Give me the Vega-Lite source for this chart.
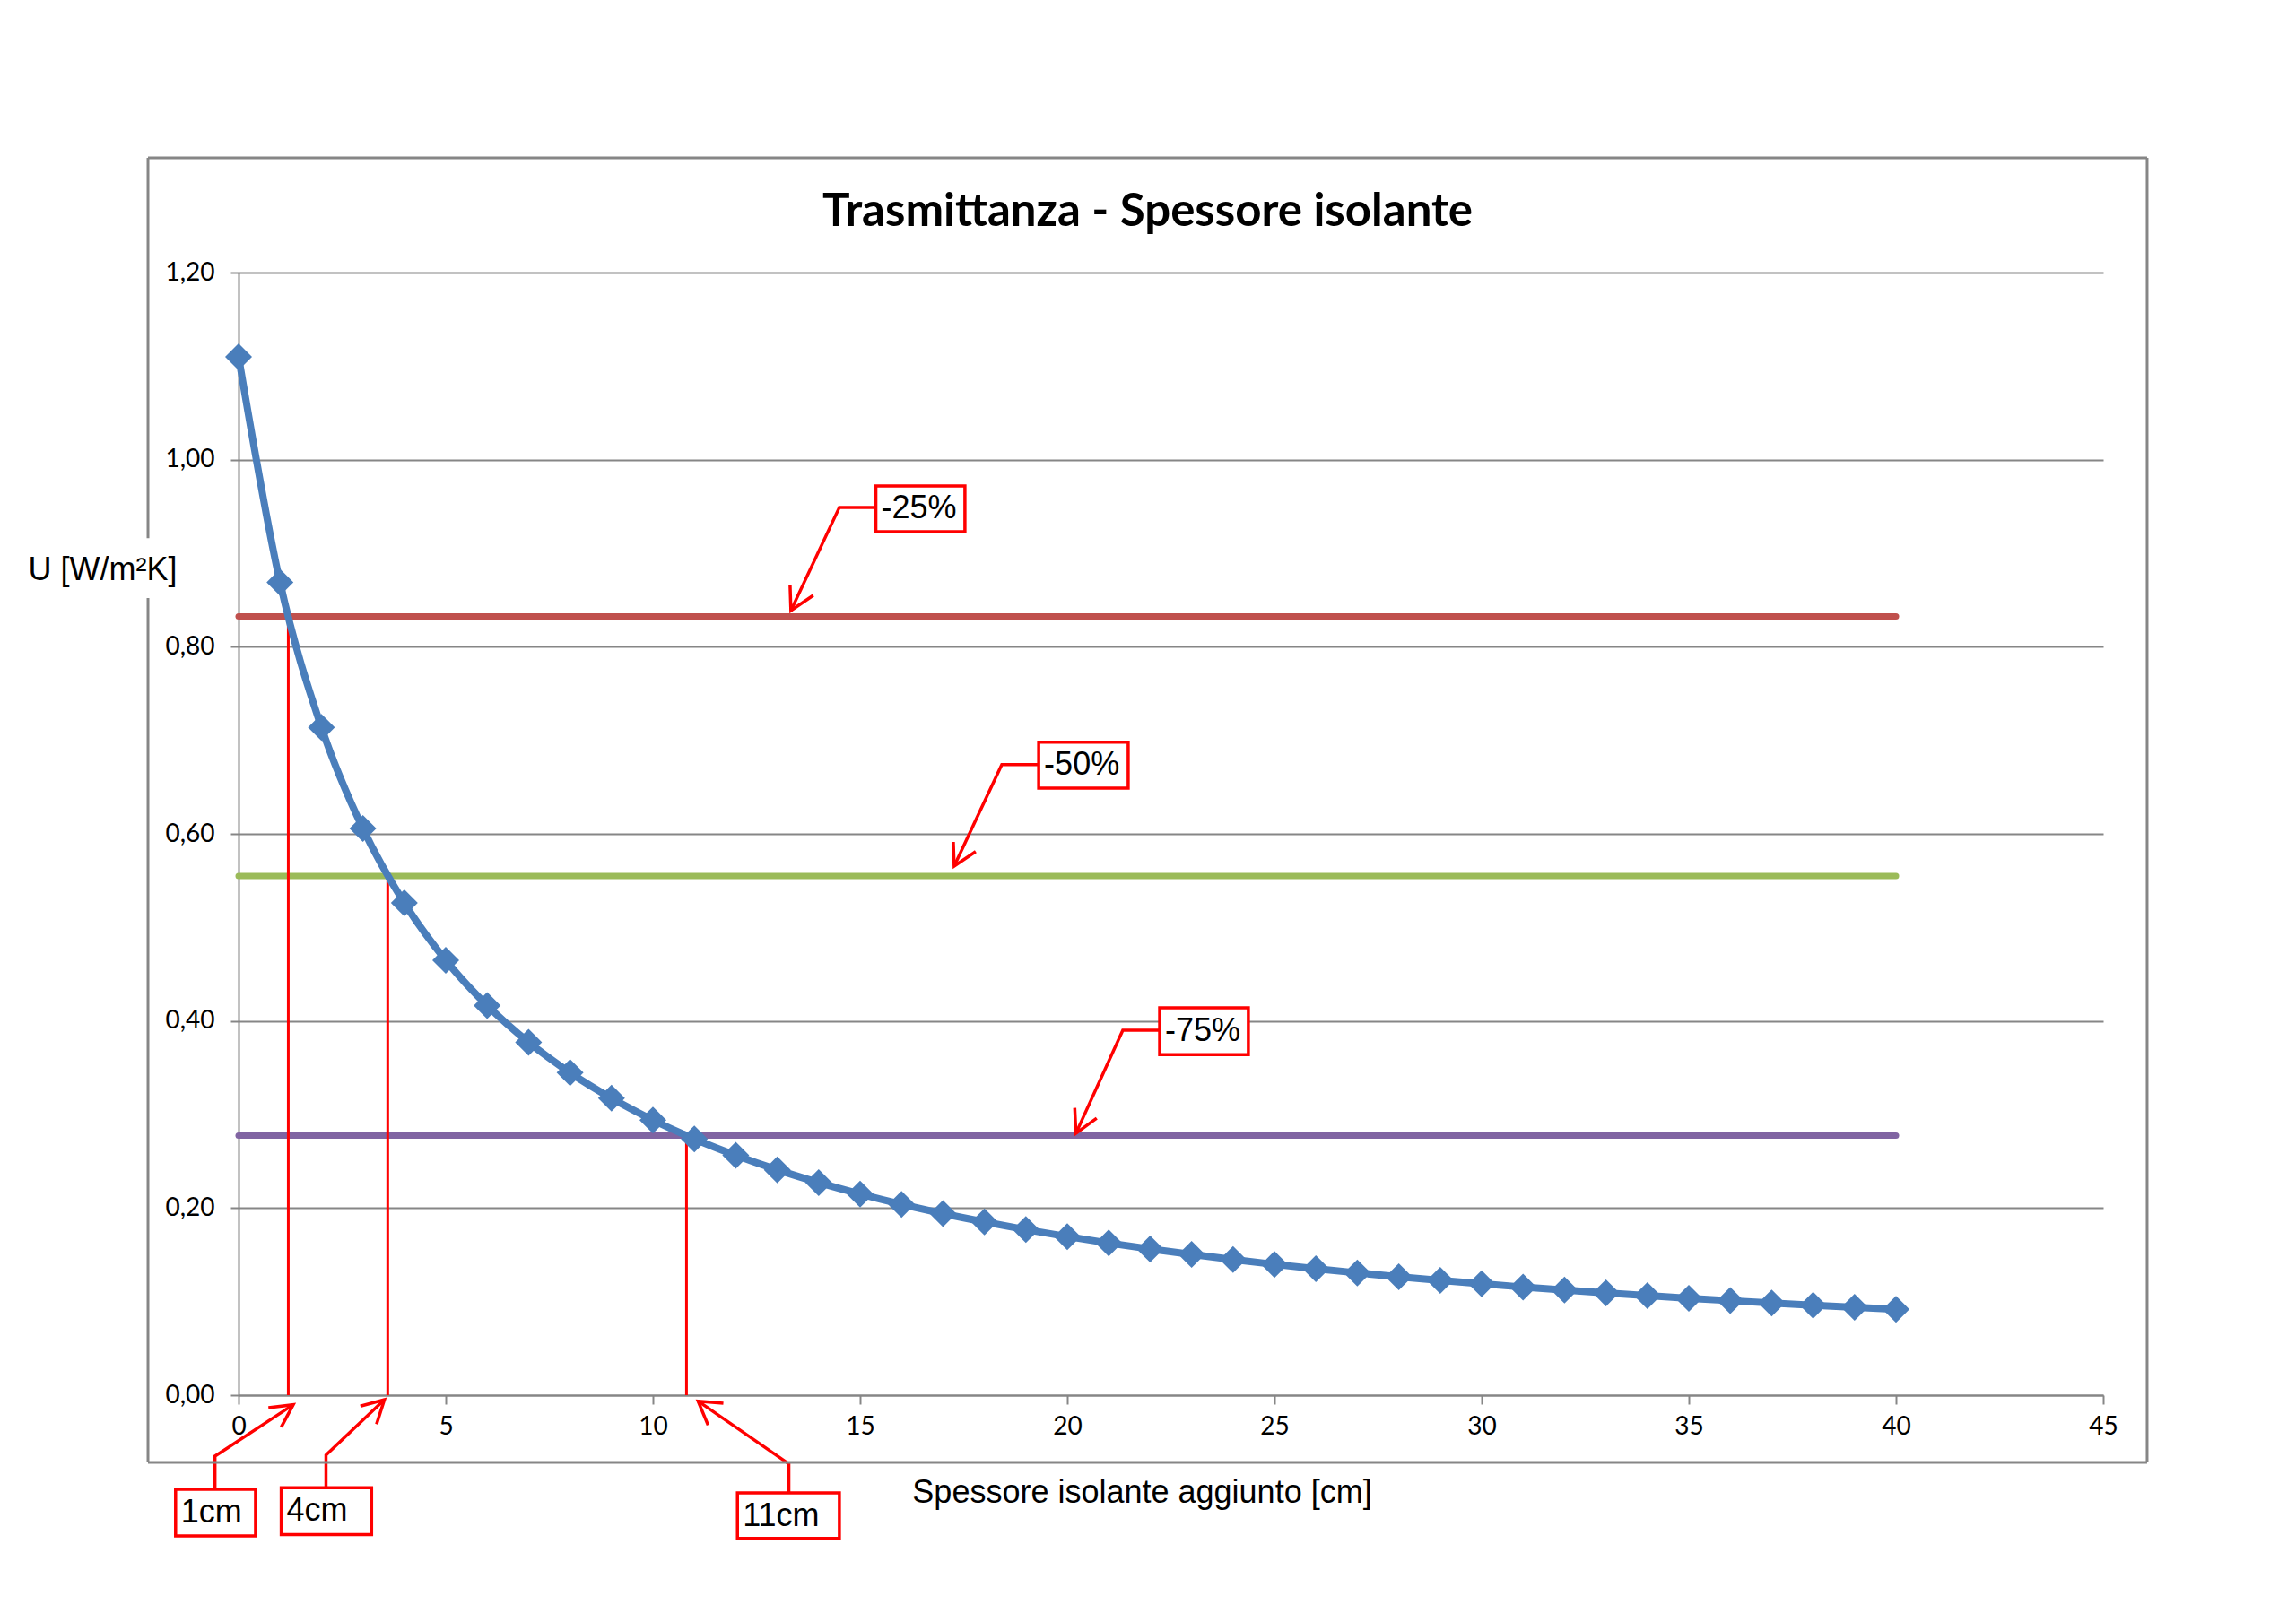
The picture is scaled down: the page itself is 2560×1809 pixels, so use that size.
{
  "$schema": "https://vega.github.io/schema/vega-lite/v6.json",
  "width": 2079,
  "height": 1252,
  "autosize": {"type": "none"},
  "padding": {"left": 266, "top": 304, "right": 215, "bottom": 253},
  "background": "white",
  "title": {"text": "Trasmittanza - Spessore isolante", "font": "Lato", "fontWeight": "bold", "fontSize": 51, "color": "#000000", "anchor": "middle", "dx": -26, "dy": 139, "offset": 50},
  "config": {"view": {"stroke": null}},
  "datasets": {
    "curva": [
      {"x": 0, "y": 1.110}, {"x": 1, "y": 0.8689}, {"x": 2, "y": 0.7138}, {"x": 3, "y": 0.6057}, {"x": 4, "y": 0.5261},
      {"x": 5, "y": 0.4649}, {"x": 6, "y": 0.4165}, {"x": 7, "y": 0.3772}, {"x": 8, "y": 0.3447}, {"x": 9, "y": 0.3174},
      {"x": 10, "y": 0.2940}, {"x": 11, "y": 0.2739}, {"x": 12, "y": 0.2564}, {"x": 13, "y": 0.2409}, {"x": 14, "y": 0.2272},
      {"x": 15, "y": 0.2150}, {"x": 16, "y": 0.2040}, {"x": 17, "y": 0.1941}, {"x": 18, "y": 0.1852}, {"x": 19, "y": 0.1770},
      {"x": 20, "y": 0.1695}, {"x": 21, "y": 0.1626}, {"x": 22, "y": 0.1562}, {"x": 23, "y": 0.1504}, {"x": 24, "y": 0.1449},
      {"x": 25, "y": 0.1398}, {"x": 26, "y": 0.1351}, {"x": 27, "y": 0.1307}, {"x": 28, "y": 0.1266}, {"x": 29, "y": 0.1227},
      {"x": 30, "y": 0.1190}, {"x": 31, "y": 0.1156}, {"x": 32, "y": 0.1123}, {"x": 33, "y": 0.1093}, {"x": 34, "y": 0.1064},
      {"x": 35, "y": 0.1036}, {"x": 36, "y": 0.1010}, {"x": 37, "y": 0.0985}, {"x": 38, "y": 0.0961}, {"x": 39, "y": 0.0939},
      {"x": 40, "y": 0.0917}
    ],
    "soglie": [
      {"serie": "-25%", "x": 0, "y": 0.8325}, {"serie": "-25%", "x": 40, "y": 0.8325},
      {"serie": "-50%", "x": 0, "y": 0.555}, {"serie": "-50%", "x": 40, "y": 0.555},
      {"serie": "-75%", "x": 0, "y": 0.2775}, {"serie": "-75%", "x": 40, "y": 0.2775}
    ],
    "verticali": [
      {"x": 1.2, "y": 0, "y2": 0.8325},
      {"x": 3.6, "y": 0, "y2": 0.555},
      {"x": 10.81, "y": 0, "y2": 0.2775}
    ],
    "frecce": [
      {"g": "a25", "o": 1, "x": 15.38, "y": 0.949}, {"g": "a25", "o": 2, "x": 14.50, "y": 0.949}, {"g": "a25", "o": 3, "x": 13.33, "y": 0.8387},
      {"g": "a25h", "o": 1, "x": 13.31, "y": 0.8655}, {"g": "a25h", "o": 2, "x": 13.33, "y": 0.8387}, {"g": "a25h", "o": 3, "x": 13.87, "y": 0.855},
      {"g": "a50", "o": 1, "x": 19.31, "y": 0.674}, {"g": "a50", "o": 2, "x": 18.42, "y": 0.674}, {"g": "a50", "o": 3, "x": 17.27, "y": 0.5655},
      {"g": "a50h", "o": 1, "x": 17.25, "y": 0.5914}, {"g": "a50h", "o": 2, "x": 17.27, "y": 0.5655}, {"g": "a50h", "o": 3, "x": 17.79, "y": 0.581},
      {"g": "a75", "o": 1, "x": 22.23, "y": 0.390}, {"g": "a75", "o": 2, "x": 21.34, "y": 0.390}, {"g": "a75", "o": 3, "x": 20.21, "y": 0.280},
      {"g": "a75h", "o": 1, "x": 20.18, "y": 0.307}, {"g": "a75h", "o": 2, "x": 20.21, "y": 0.280}, {"g": "a75h", "o": 3, "x": 20.71, "y": 0.296},
      {"g": "c1", "o": 1, "x": -0.57, "y": -0.1006}, {"g": "c1", "o": 2, "x": -0.57, "y": -0.0652}, {"g": "c1", "o": 3, "x": 1.32, "y": -0.0102},
      {"g": "c1h", "o": 1, "x": 0.72, "y": -0.0134}, {"g": "c1h", "o": 2, "x": 1.32, "y": -0.0102}, {"g": "c1h", "o": 3, "x": 1.03, "y": -0.0342},
      {"g": "c4", "o": 1, "x": 2.11, "y": -0.099}, {"g": "c4", "o": 2, "x": 2.11, "y": -0.064}, {"g": "c4", "o": 3, "x": 3.52, "y": -0.0048},
      {"g": "c4h", "o": 1, "x": 2.94, "y": -0.0118}, {"g": "c4h", "o": 2, "x": 3.52, "y": -0.0048}, {"g": "c4h", "o": 3, "x": 3.33, "y": -0.031},
      {"g": "c11", "o": 1, "x": 13.28, "y": -0.1045}, {"g": "c11", "o": 2, "x": 13.28, "y": -0.0735}, {"g": "c11", "o": 3, "x": 11.09, "y": -0.0064},
      {"g": "c11h", "o": 1, "x": 11.70, "y": -0.0086}, {"g": "c11h", "o": 2, "x": 11.09, "y": -0.0064}, {"g": "c11h", "o": 3, "x": 11.33, "y": -0.032}
    ],
    "riquadri": [
      {"label": "-25%", "x": 15.38, "x2": 17.53, "y": 0.923, "y2": 0.972, "yc": 0.9475},
      {"label": "-50%", "x": 19.31, "x2": 21.47, "y": 0.649, "y2": 0.698, "yc": 0.6735},
      {"label": "-75%", "x": 22.23, "x2": 24.37, "y": 0.364, "y2": 0.414, "yc": 0.389},
      {"label": "1cm", "x": -1.52, "x2": 0.41, "y": -0.1505, "y2": -0.1006, "yc": -0.1255},
      {"label": "4cm", "x": 1.03, "x2": 3.21, "y": -0.149, "y2": -0.099, "yc": -0.124},
      {"label": "11cm", "x": 12.04, "x2": 14.50, "y": -0.153, "y2": -0.1045, "yc": -0.129}
    ],
    "cornice": [
      {"x": -2.186, "x2": 46.06, "y": 1.3227, "y2": 1.3227},
      {"x": -2.186, "x2": 46.06, "y": -0.0719, "y2": -0.0719},
      {"x": 46.06, "x2": 46.06, "y": -0.0719, "y2": 1.3227},
      {"x": -2.186, "x2": -2.186, "y": 1.3227, "y2": 0.916},
      {"x": -2.186, "x2": -2.186, "y": 0.852, "y2": -0.0719}
    ]
  },
  "encoding": {
    "x": {
      "field": "x", "type": "quantitative",
      "scale": {"domain": [0, 45], "nice": false, "zero": false},
      "axis": {
        "title": "Spessore isolante aggiunto [cm]",
        "values": [0, 5, 10, 15, 20, 25, 30, 35, 40, 45],
        "grid": false,
        "domainColor": "#868686", "domainWidth": 2,
        "tickColor": "#868686", "tickWidth": 2, "tickSize": 10,
        "labelFont": "Lato", "labelFontSize": 28, "labelColor": "#000000", "labelPadding": 11,
        "labelFlush": false, "labelOverlap": false,
        "titleFont": "Liberation Sans", "titleFontSize": 36, "titleFontWeight": "normal", "titleColor": "#000000",
        "titleX": 1007, "titleY": 108, "titleAlign": "center", "titleBaseline": "middle"
      }
    },
    "y": {
      "field": "y", "type": "quantitative",
      "scale": {"domain": [0, 1.2], "nice": false, "zero": false},
      "axis": {
        "title": "U [W/m²K]",
        "values": [0, 0.2, 0.4, 0.6, 0.8, 1.0, 1.2],
        "labelExpr": "replace(format(datum.value, '.2f'), '.', ',')",
        "grid": true, "gridColor": "#868686", "gridWidth": 2,
        "domainColor": "#868686", "domainWidth": 2,
        "tickColor": "#868686", "tickWidth": 2, "tickSize": 9,
        "labelFont": "Lato", "labelFontSize": 28, "labelColor": "#000000", "labelPadding": 18,
        "labelOverlap": false,
        "titleFont": "Liberation Sans", "titleFontSize": 36, "titleFontWeight": "normal", "titleColor": "#000000",
        "titleAngle": 0, "titleX": -152, "titleY": 331, "titleAlign": "center", "titleBaseline": "middle"
      }
    }
  },
  "layer": [
    {
      "data": {"name": "soglie"},
      "mark": {"type": "line", "strokeWidth": 7, "strokeCap": "round"},
      "encoding": {
        "color": {"field": "serie", "type": "nominal", "scale": {"domain": ["-25%", "-50%", "-75%"], "range": ["#C0504D", "#9BBB59", "#8064A2"]}, "legend": null}
      }
    },
    {
      "data": {"name": "verticali"},
      "mark": {"type": "rule", "color": "#FF0000", "strokeWidth": 3},
      "encoding": {"y2": {"field": "y2"}}
    },
    {
      "data": {"name": "curva"},
      "mark": {"type": "line", "color": "#4A7EBB", "strokeWidth": 8, "interpolate": "monotone"},
      "encoding": {}
    },
    {
      "data": {"name": "curva"},
      "mark": {"type": "point", "shape": "M-1,0L0,-1L1,0L0,1Z", "filled": true, "color": "#4A7EBB", "size": 900, "opacity": 1},
      "encoding": {}
    },
    {
      "data": {"name": "frecce"},
      "mark": {"type": "line", "color": "#FF0000", "strokeWidth": 3.5},
      "encoding": {"detail": {"field": "g"}, "order": {"field": "o", "type": "quantitative"}}
    },
    {
      "data": {"name": "riquadri"},
      "mark": {"type": "rect", "fill": "white", "stroke": "#FF0000", "strokeWidth": 3.5},
      "encoding": {"x2": {"field": "x2"}, "y2": {"field": "y2"}}
    },
    {
      "data": {"name": "riquadri"},
      "mark": {"type": "text", "align": "left", "baseline": "middle", "dx": 6, "font": "Liberation Sans", "fontSize": 36, "color": "#000000"},
      "encoding": {"y": {"field": "yc", "type": "quantitative"}, "text": {"field": "label"}}
    },
    {
      "data": {"name": "cornice"},
      "mark": {"type": "rule", "color": "#868686", "strokeWidth": 3},
      "encoding": {"x2": {"field": "x2"}, "y2": {"field": "y2"}}
    }
  ]
}
